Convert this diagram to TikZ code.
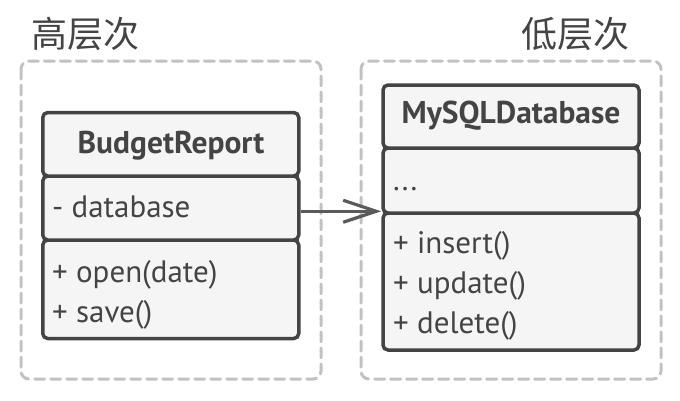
\documentclass[tikz,border=0pt]{standalone}
\usepackage{fontspec}
\setmainfont{PT Sans}
\newfontfamily\cjk{Noto Sans CJK SC}
\usetikzlibrary{arrows.meta}
\definecolor{ink}{HTML}{444444}
\definecolor{boxfill}{HTML}{F5F5F5}
\definecolor{dashgray}{HTML}{C2C2C2}
\definecolor{arrowgray}{HTML}{5A5A5A}
\tikzset{
  layer/.style={draw=dashgray, line width=3pt, dash pattern=on 10pt off 6pt, line cap=round, rounded corners=8pt},
  section/.style={draw=ink, fill=boxfill, line width=3.5pt, rounded corners=5pt, inner sep=0pt, minimum width=256pt},
  title/.style={font=\fontsize{31.5}{36}\selectfont\bfseries, text=ink, anchor=base, inner sep=0pt},
  member/.style={font=\fontsize{31}{36}\selectfont, text=ink, anchor=base west, inner sep=0pt},
  layertext/.style={font=\cjk\fontsize{36}{40}\selectfont, text=ink, anchor=west, inner sep=0pt},
  dep/.style={draw=arrowgray, line width=2.5pt, -{Straight Barb[length=33pt, width=22pt, line width=3.2pt]}}
}
\begin{document}
\begin{tikzpicture}[x=1pt,y=-1pt]
\useasboundingbox (0,0) rectangle (680,400);
% layers
\draw[layer] (21,61) rectangle (321,379);
\draw[layer] (361,61) rectangle (661,379);
\node[layertext] (hi) at (31,34) {高层次};
\node[layertext] (lo) at (521,34) {低层次};
% BudgetReport
\node[section, minimum height=98.5pt] (br-m) at (170.75,289.25) {};
\node[section, minimum height=64pt] (br-a) at (170.75,208) {};
\node[section, minimum height=63.5pt] (br-h) at (170.75,144.25) {};
\node[title] (br-t) at (171,153) {BudgetReport};
\node[member] (br-a1) at (52,217) {- database};
\node[member] (br-m1) at (52,282) {+ open(date)};
\node[member] (br-m2) at (52,322) {+ save()};
% MySQLDatabase
\node[section, minimum height=137pt] (db-m) at (511,281.5) {};
\node[section, minimum height=65pt] (db-a) at (511,180.5) {};
\node[section, minimum height=63pt] (db-h) at (511,116.5) {};
\node[title] (db-t) at (511,123.5) {MySQLDatabase};
\node[member] (db-a1) at (393,190) {...};
\node[member] (db-m1) at (393,253) {+ insert()};
\node[member] (db-m2) at (393,293) {+ update()};
\node[member] (db-m3) at (393,333) {+ delete()};
% dependency
\draw[dep] (br-a.east |- db-m.north west) -- (db-m.north west);
\end{tikzpicture}
\end{document}
